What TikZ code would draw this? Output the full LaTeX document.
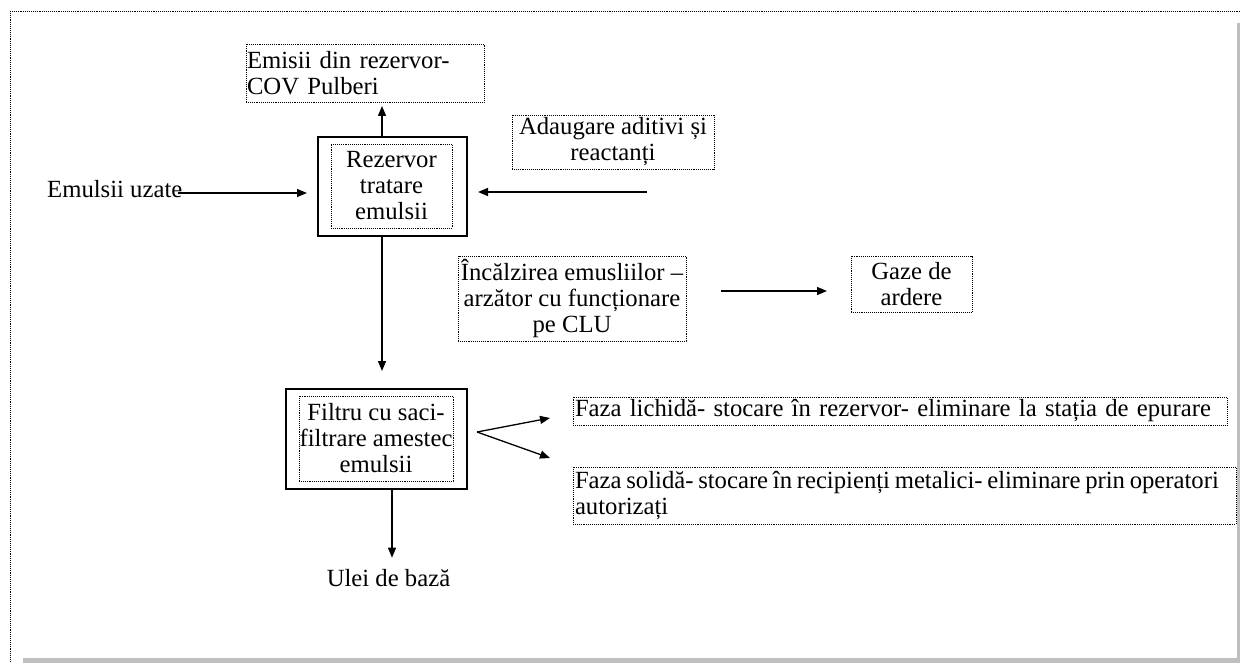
\documentclass[tikz,border=0pt]{standalone}
\usepackage{fontspec}
\setmainfont{Liberation Serif}
\usetikzlibrary{arrows.meta}
\begin{document}
\begin{tikzpicture}[x=1pt,y=-1pt,
  txt/.style={font=\fontsize{24.7}{26}\selectfont},
  dotbox/.style={draw, densely dotted, line width=0.9pt, inner sep=0pt, outer sep=0pt, txt},
  solidbox/.style={draw, line width=1.8pt, inner sep=0pt, outer sep=0pt},
  arr/.style={-{Triangle[length=10pt,width=8pt]}, line width=1.3pt},
  shadowbar/.style={fill=black!25, draw=none}]
\useasboundingbox (0,0) rectangle (1240,663);
% frame
\draw[densely dotted, line width=0.9pt] (10,11) -- (1240,11);
\draw[densely dotted, line width=0.9pt] (10,11) -- (10,663);
\fill[shadowbar] (1236.5,23) rectangle (1240,663);
\fill[shadowbar] (23,658) rectangle (1240,663);

% nodes
\node[dotbox, minimum width=238pt, minimum height=58pt, text width=236pt, align=left] (emisii) at (365,73) {Emisii din rezervor-\\COV Pulberi};
\node[solidbox, minimum width=149pt, minimum height=99pt] (rez) at (392.5,186.5) {};
\node[dotbox, minimum width=121pt, minimum height=84pt, align=center] (rezin) at (391.5,186) {Rezervor\\tratare\\emulsii};
\node[dotbox, minimum width=202pt, minimum height=54pt, align=center] (adaug) at (613,142) {Adaugare aditivi și\\reactanți};
\node[txt, anchor=base west, inner sep=0pt] (emul) at (47,198) {Emulsii uzate};
\node[dotbox, minimum width=228pt, minimum height=85pt, align=center] (incalz) at (572,298.5) {Încălzirea emusliilor –\\arzător cu funcționare\\pe CLU};
\node[dotbox, minimum width=121pt, minimum height=56pt, align=center] (gaze) at (911.5,284) {Gaze de\\ardere};
\node[solidbox, minimum width=181pt, minimum height=100pt] (filtru) at (376.5,439) {};
\node[dotbox, minimum width=154pt, minimum height=85pt, align=center] (filtruin) at (376,438.5) {Filtru cu saci-\\filtrare amestec\\emulsii};
\node[dotbox, minimum width=654pt, minimum height=28pt, text width=650pt, align=left] (lichida) at (900,411) {\mbox{Faza lichidă- stocare în rezervor- eliminare la stația de epurare}};
\node[dotbox, minimum width=663pt, minimum height=57pt, text width=659pt, align=left] (solida) at (904.5,495.5) {\mbox{\spaceskip=0.19em\relax Faza solidă- stocare în recipienți metalici- eliminare prin operatori}\\autorizați};
\node[txt, inner sep=0pt, anchor=base] (ulei) at (388.5,586) {Ulei de bază};

% coordinates for free ends
\coordinate (adaugend) at (647,192);
\coordinate (incA) at (721,291);
\coordinate (incB) at (827,291);
\coordinate (branch) at (477,432);
\coordinate (liqtip) at (550,418);
\coordinate (soltip) at (550,458);

% connectors
\draw[arr] (rez.north -| 382,0) -- ([yshift=-4pt]emisii.south -| 382,0);
\draw[arr] ([xshift=-5pt]emul.east |- 0,193) -- ([xshift=-11pt]rez.west |- 0,193);
\draw[arr] (adaugend) -- ([xshift=11pt]rez.east |- adaugend);
\draw[arr] (rez.south -| 382,0) -- ([yshift=18pt]filtru.north -| 382,0);
\draw[arr] (incA) -- (incB);
\draw[arr] (branch) -- (liqtip);
\draw[arr] (branch) -- (soltip);
\draw[arr] (filtru.south -| 392,0) -- ([yshift=11pt]ulei.north -| 392,0);
\end{tikzpicture}
\end{document}
